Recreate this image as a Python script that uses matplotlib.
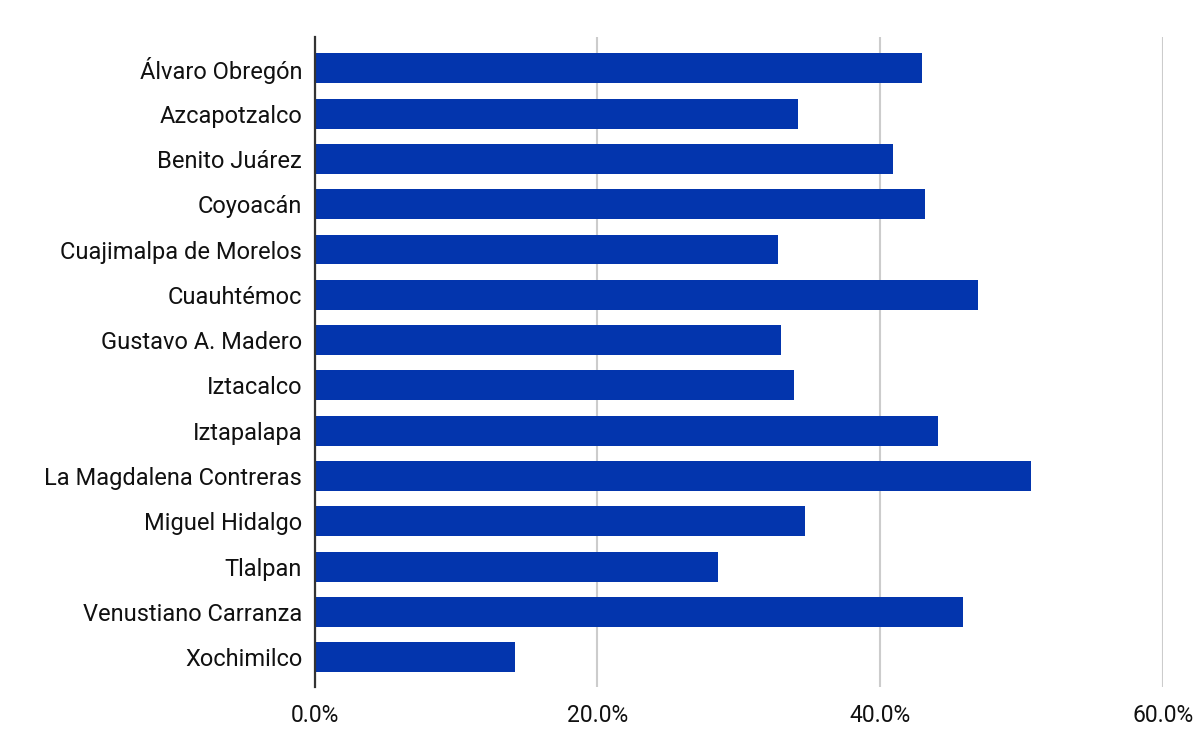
import matplotlib.pyplot as plt
from matplotlib.ticker import FuncFormatter

alcaldias = ['Álvaro Obregón', 'Azcapotzalco', 'Benito Juárez', 'Coyoacán',
             'Cuajimalpa de Morelos', 'Cuauhtémoc', 'Gustavo A. Madero',
             'Iztacalco', 'Iztapalapa', 'La Magdalena Contreras',
             'Miguel Hidalgo', 'Tlalpan', 'Venustiano Carranza', 'Xochimilco']
porcentaje = [43.0, 34.2, 40.9, 43.2, 32.8, 46.9, 33.0,
              33.9, 44.1, 50.7, 34.7, 28.5, 45.9, 14.2]
x_ticks = [0, 20, 40, 60]

plt.rcParams['font.family'] = ['Roboto', 'DejaVu Sans']

fig = plt.figure(figsize=(12, 7.42), dpi=100)
ax = fig.add_axes([0.2622, 0.074, 0.7068, 0.876])

pos = list(range(len(alcaldias)))
ax.barh(pos, porcentaje, height=0.66, color='#0335ad', zorder=3)

ax.set_xlim(0, 60)
ax.set_ylim(13.66, -0.69)
ax.set_xticks(x_ticks)
ax.xaxis.set_major_formatter(FuncFormatter(lambda v, p: f'{v:.1f}%'))
ax.set_yticks(pos)
ax.set_yticklabels(alcaldias)

ax.grid(axis='x', color='#cccccc', linewidth=1.5, zorder=0)
for s in ['top', 'right', 'bottom']:
    ax.spines[s].set_visible(False)
ax.spines['left'].set_color('#333333')
ax.spines['left'].set_linewidth(1.6)
ax.spines['left'].set_zorder(4)

ax.tick_params(axis='y', length=0, labelsize=17, colors='#111111', pad=9)
ax.tick_params(axis='x', length=0, labelsize=16.5, colors='#111111', pad=12)

fig.savefig('out.png', dpi=100)
